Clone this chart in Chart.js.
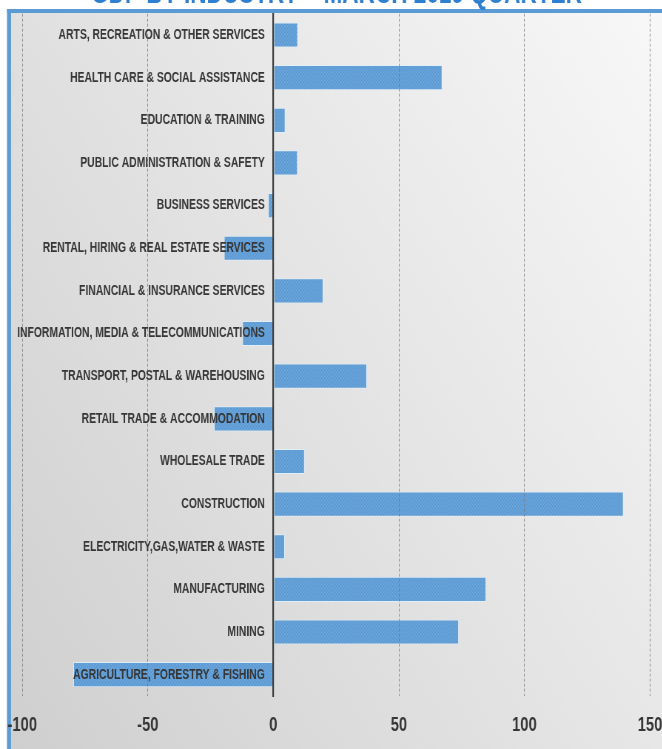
<!DOCTYPE html>
<html>
<head>
<meta charset="utf-8">
<title>GDP by industry - March 2019 quarter</title>
<script src="https://cdn.jsdelivr.net/npm/chart.js@4.4.1/dist/chart.umd.min.js"></script>
<style>
  html, body { margin: 0; padding: 0; background: #fff; width: 662px; height: 749px; overflow: hidden; }
  /* chart is drawn wider and squeezed, the original text is condensed */
  #wrap { position: absolute; left: 0; top: -30px; width: 895px; height: 779px; transform: scaleX(0.74); transform-origin: 0 0; }
</style>
</head>
<body>
<div id="wrap"><canvas id="gdpChart" width="895" height="779"></canvas></div>
<script>
const industries = [
  'ARTS, RECREATION & OTHER SERVICES',
  'HEALTH CARE & SOCIAL ASSISTANCE',
  'EDUCATION & TRAINING',
  'PUBLIC ADMINISTRATION & SAFETY',
  'BUSINESS SERVICES',
  'RENTAL, HIRING & REAL ESTATE SERVICES',
  'FINANCIAL & INSURANCE SERVICES',
  'INFORMATION, MEDIA & TELECOMMUNICATIONS',
  'TRANSPORT, POSTAL & WAREHOUSING',
  'RETAIL TRADE & ACCOMMODATION',
  'WHOLESALE TRADE',
  'CONSTRUCTION',
  'ELECTRICITY,GAS,WATER & WASTE',
  'MANUFACTURING',
  'MINING',
  'AGRICULTURE, FORESTRY & FISHING'
];
const changeValues = [9.8, 67.3, 4.8, 9.7, -2.1, -19.7, 19.9, -12.4, 37.3, -23.7, 12.5, 139.5, 4.6, 84.8, 73.9, -79.7];
const xMin = -100;
const xMax = 150;
const xStep = 50;

const labelFont = "'Liberation Sans Narrow', 'Arial Narrow', sans-serif";
const textColor = '#363636';
const blue = '#5b9bd5';

// dotted fill like the excel bars
function barPattern() {
  const c = document.createElement('canvas');
  c.width = 4; c.height = 4;
  const g = c.getContext('2d');
  g.fillStyle = '#629fd7';
  g.fillRect(0, 0, 4, 4);
  g.fillStyle = '#74abdd';
  g.fillRect(0, 0, 1, 1);
  g.fillRect(2, 2, 1, 1);
  g.fillStyle = '#5995cf';
  g.fillRect(2, 0, 1, 1);
  g.fillRect(0, 2, 1, 1);
  return g.createPattern(c, 'repeat');
}

const panelBackground = {
  id: 'panelBackground',
  beforeDraw(chart) {
    const { ctx, width, height } = chart;
    const left = 9.5, top = 39;
    ctx.save();
    const grad = ctx.createLinearGradient(left, height, width, top);
    grad.addColorStop(0, '#cfcfcf');
    grad.addColorStop(1, '#f8f8f8');
    ctx.fillStyle = grad;
    ctx.fillRect(left, top, width - left, height - top);
    ctx.fillStyle = blue;
    ctx.fillRect(left, top, width - left, 4);
    ctx.fillRect(left, top, 5.4, height - top);
    ctx.restore();
  }
};

const ctx = document.getElementById('gdpChart').getContext('2d');
new Chart(ctx, {
  type: 'bar',
  data: {
    labels: industries,
    datasets: [{
      data: changeValues,
      xAxisID: 'x',
      yAxisID: 'y',
      backgroundColor: barPattern(),
      borderColor: 'rgba(225,238,250,0.85)',
      borderWidth: 1,
      borderSkipped: false,
      barPercentage: 0.59,
      categoryPercentage: 1
    }]
  },
  options: {
    indexAxis: 'y',
    responsive: false,
    animation: false,
    layout: { padding: { left: 30.1, right: 15.7, top: 0, bottom: 12 } },
    scales: {
      x: {
        type: 'linear',
        position: 'bottom',
        min: xMin,
        max: xMax,
        ticks: {
          stepSize: xStep,
          padding: 0,
          color: textColor,
          font: { family: labelFont, size: 20, weight: 'bold' }
        },
        grid: {
          color: 'rgba(115,115,115,0.75)',
          lineWidth: 1,
          drawTicks: true,
          tickLength: 17,
          tickColor: 'rgba(0,0,0,0)',
          z: 1
        },
        border: { display: false, dash: [3, 2] }
      },
      y: {
        type: 'category',
        axis: 'y',
        position: { x: -3.4 },
        grid: { display: false, drawTicks: false },
        border: { display: false },
        ticks: {
          autoSkip: false,
          color: textColor,
          font: { family: labelFont, size: 14, weight: 'bold' },
          z: 2
        }
      },
      y2: {
        type: 'category',
        axis: 'y',
        position: { x: 0 },
        grid: { display: false, drawTicks: false },
        ticks: { display: false },
        border: { display: true, color: '#3a3a3a', width: 2.2, z: 1 }
      }
    },
    plugins: {
      legend: { display: false },
      tooltip: { enabled: false },
      title: {
        display: true,
        text: 'GDP BY INDUSTRY \u2013 MARCH 2019 QUARTER',
        color: '#2f7fd0',
        font: { family: "'Liberation Sans', Arial, sans-serif", size: 30.5, weight: 'bold' },
        padding: { top: 5.8, bottom: 1.3 }
      }
    }
  },
  plugins: [panelBackground]
});
</script>
</body>
</html>
